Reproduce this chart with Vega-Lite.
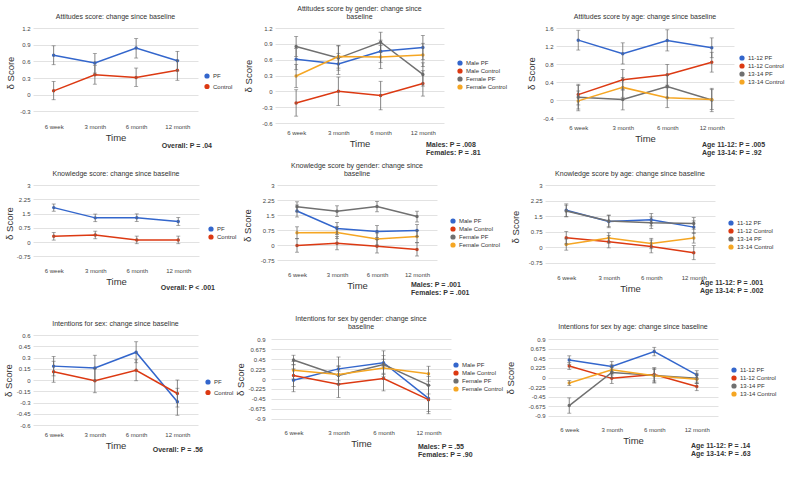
{
"$schema": "https://vega.github.io/schema/vega-lite/v6.json",
"padding": {"left": 3, "top": 4, "right": 0, "bottom": 0},
"background": "white",
"config": {
 "font": "Liberation Sans",
 "view": {"stroke": null},
 "axis": {"labelFontSize": 6, "labelColor": "#444", "titleFontWeight": "normal", "titleFontSize": 9.5, "titleColor": "#333", "ticks": false, "domain": false, "gridColor": "#dadada", "gridWidth": 0.8, "labelOverlap": false},
 "axisX": {"labelAngle": 0, "grid": false, "labelPadding": 6, "titlePadding": 3},
 "axisY": {"labelPadding": 3, "titlePadding": 6},
 "legend": {"labelFontSize": 6, "labelColor": "#333", "symbolType": "circle", "symbolSize": 14, "rowPadding": -2, "orient": "none", "padding": 0, "labelOffset": 3},
 "title": {"fontSize": 7, "fontWeight": "normal", "color": "#333", "offset": 5, "lineHeight": 8.5}
},
"resolve": {"scale": {"color": "independent"}, "legend": {"color": "independent"}},
"datasets": {
 "p1": [
  {"t":"6 week","g":"PF","v":0.71,"lo":0.54,"hi":0.88},
  {"t":"3 month","g":"PF","v":0.57,"lo":0.39,"hi":0.74},
  {"t":"6 month","g":"PF","v":0.84,"lo":0.66,"hi":1.01},
  {"t":"12 month","g":"PF","v":0.61,"lo":0.43,"hi":0.78},
  {"t":"6 week","g":"Control","v":0.07,"lo":-0.09,"hi":0.24},
  {"t":"3 month","g":"Control","v":0.36,"lo":0.19,"hi":0.53},
  {"t":"6 month","g":"Control","v":0.31,"lo":0.15,"hi":0.48},
  {"t":"12 month","g":"Control","v":0.44,"lo":0.26,"hi":0.62}
 ],
 "p2": [
  {"t":"6 week","g":"Male PF","v":0.61,"lo":0.41,"hi":0.81},
  {"t":"3 month","g":"Male PF","v":0.52,"lo":0.32,"hi":0.72},
  {"t":"6 month","g":"Male PF","v":0.76,"lo":0.55,"hi":0.97},
  {"t":"12 month","g":"Male PF","v":0.83,"lo":0.6,"hi":1.06},
  {"t":"6 week","g":"Male Control","v":-0.22,"lo":-0.47,"hi":0.03},
  {"t":"3 month","g":"Male Control","v":0.0,"lo":-0.27,"hi":0.27},
  {"t":"6 month","g":"Male Control","v":-0.08,"lo":-0.35,"hi":0.19},
  {"t":"12 month","g":"Male Control","v":0.15,"lo":-0.09,"hi":0.39},
  {"t":"6 week","g":"Female PF","v":0.85,"lo":0.66,"hi":1.04},
  {"t":"3 month","g":"Female PF","v":0.63,"lo":0.4,"hi":0.87},
  {"t":"6 month","g":"Female PF","v":0.93,"lo":0.74,"hi":1.12},
  {"t":"12 month","g":"Female PF","v":0.32,"lo":0.1,"hi":0.54},
  {"t":"6 week","g":"Female Control","v":0.29,"lo":0.07,"hi":0.51},
  {"t":"3 month","g":"Female Control","v":0.66,"lo":0.44,"hi":0.86},
  {"t":"6 month","g":"Female Control","v":0.65,"lo":0.43,"hi":0.87},
  {"t":"12 month","g":"Female Control","v":0.69,"lo":0.47,"hi":0.91}
 ],
 "p3": [
  {"t":"6 week","g":"11-12 PF","v":1.33,"lo":1.11,"hi":1.55},
  {"t":"3 month","g":"11-12 PF","v":1.03,"lo":0.8,"hi":1.27},
  {"t":"6 month","g":"11-12 PF","v":1.32,"lo":1.09,"hi":1.56},
  {"t":"12 month","g":"11-12 PF","v":1.16,"lo":0.94,"hi":1.38},
  {"t":"6 week","g":"11-12 Control","v":0.12,"lo":-0.11,"hi":0.35},
  {"t":"3 month","g":"11-12 Control","v":0.45,"lo":0.22,"hi":0.68},
  {"t":"6 month","g":"11-12 Control","v":0.56,"lo":0.33,"hi":0.79},
  {"t":"12 month","g":"11-12 Control","v":0.84,"lo":0.62,"hi":1.06},
  {"t":"6 week","g":"13-14 PF","v":0.06,"lo":-0.2,"hi":0.32},
  {"t":"3 month","g":"13-14 PF","v":0.01,"lo":-0.22,"hi":0.24},
  {"t":"6 month","g":"13-14 PF","v":0.3,"lo":0.05,"hi":0.55},
  {"t":"12 month","g":"13-14 PF","v":0.0,"lo":-0.26,"hi":0.26},
  {"t":"6 week","g":"13-14 Control","v":-0.02,"lo":-0.24,"hi":0.2},
  {"t":"3 month","g":"13-14 Control","v":0.28,"lo":0.06,"hi":0.5},
  {"t":"6 month","g":"13-14 Control","v":0.05,"lo":-0.17,"hi":0.27},
  {"t":"12 month","g":"13-14 Control","v":0.01,"lo":-0.21,"hi":0.23}
 ],
 "p4": [
  {"t":"6 week","g":"PF","v":1.81,"lo":1.62,"hi":2.0},
  {"t":"3 month","g":"PF","v":1.27,"lo":1.07,"hi":1.47},
  {"t":"6 month","g":"PF","v":1.28,"lo":1.08,"hi":1.48},
  {"t":"12 month","g":"PF","v":1.08,"lo":0.87,"hi":1.29},
  {"t":"6 week","g":"Control","v":0.3,"lo":0.1,"hi":0.5},
  {"t":"3 month","g":"Control","v":0.37,"lo":0.17,"hi":0.57},
  {"t":"6 month","g":"Control","v":0.11,"lo":-0.09,"hi":0.31},
  {"t":"12 month","g":"Control","v":0.11,"lo":-0.09,"hi":0.31}
 ],
 "p5": [
  {"t":"6 week","g":"Male PF","v":1.7,"lo":1.4,"hi":2.0},
  {"t":"3 month","g":"Male PF","v":0.83,"lo":0.53,"hi":1.13},
  {"t":"6 month","g":"Male PF","v":0.67,"lo":0.37,"hi":0.97},
  {"t":"12 month","g":"Male PF","v":0.72,"lo":0.42,"hi":1.02},
  {"t":"6 week","g":"Male Control","v":-0.02,"lo":-0.36,"hi":0.32},
  {"t":"3 month","g":"Male Control","v":0.09,"lo":-0.24,"hi":0.42},
  {"t":"6 month","g":"Male Control","v":-0.06,"lo":-0.4,"hi":0.28},
  {"t":"12 month","g":"Male Control","v":-0.22,"lo":-0.55,"hi":0.11},
  {"t":"6 week","g":"Female PF","v":1.91,"lo":1.66,"hi":2.16},
  {"t":"3 month","g":"Female PF","v":1.69,"lo":1.42,"hi":1.96},
  {"t":"6 month","g":"Female PF","v":1.92,"lo":1.66,"hi":2.18},
  {"t":"12 month","g":"Female PF","v":1.42,"lo":1.15,"hi":1.69},
  {"t":"6 week","g":"Female Control","v":0.61,"lo":0.31,"hi":0.91},
  {"t":"3 month","g":"Female Control","v":0.63,"lo":0.33,"hi":0.93},
  {"t":"6 month","g":"Female Control","v":0.3,"lo":0.0,"hi":0.6},
  {"t":"12 month","g":"Female Control","v":0.42,"lo":0.12,"hi":0.72}
 ],
 "p6": [
  {"t":"6 week","g":"11-12 PF","v":1.78,"lo":1.47,"hi":2.09},
  {"t":"3 month","g":"11-12 PF","v":1.24,"lo":0.94,"hi":1.54},
  {"t":"6 month","g":"11-12 PF","v":1.33,"lo":1.03,"hi":1.63},
  {"t":"12 month","g":"11-12 PF","v":0.97,"lo":0.67,"hi":1.27},
  {"t":"6 week","g":"11-12 Control","v":0.46,"lo":0.16,"hi":0.76},
  {"t":"3 month","g":"11-12 Control","v":0.27,"lo":-0.03,"hi":0.57},
  {"t":"6 month","g":"11-12 Control","v":0.04,"lo":-0.27,"hi":0.35},
  {"t":"12 month","g":"11-12 Control","v":-0.26,"lo":-0.6,"hi":0.08},
  {"t":"6 week","g":"13-14 PF","v":1.75,"lo":1.47,"hi":2.03},
  {"t":"3 month","g":"13-14 PF","v":1.27,"lo":0.99,"hi":1.55},
  {"t":"6 month","g":"13-14 PF","v":1.18,"lo":0.9,"hi":1.46},
  {"t":"12 month","g":"13-14 PF","v":1.15,"lo":0.87,"hi":1.43},
  {"t":"6 week","g":"13-14 Control","v":0.13,"lo":-0.14,"hi":0.4},
  {"t":"3 month","g":"13-14 Control","v":0.45,"lo":0.2,"hi":0.7},
  {"t":"6 month","g":"13-14 Control","v":0.18,"lo":-0.07,"hi":0.43},
  {"t":"12 month","g":"13-14 Control","v":0.45,"lo":0.2,"hi":0.7}
 ],
 "p7": [
  {"t":"6 week","g":"PF","v":0.185,"lo":0.055,"hi":0.315},
  {"t":"3 month","g":"PF","v":0.16,"lo":-0.01,"hi":0.33},
  {"t":"6 month","g":"PF","v":0.37,"lo":0.23,"hi":0.51},
  {"t":"12 month","g":"PF","v":-0.29,"lo":-0.47,"hi":-0.11},
  {"t":"6 week","g":"Control","v":0.11,"lo":-0.03,"hi":0.25},
  {"t":"3 month","g":"Control","v":-0.01,"lo":-0.17,"hi":0.15},
  {"t":"6 month","g":"Control","v":0.13,"lo":-0.01,"hi":0.27},
  {"t":"12 month","g":"Control","v":-0.18,"lo":-0.36,"hi":0.0}
 ],
 "p8": [
  {"t":"6 week","g":"Male PF","v":-0.03,"lo":-0.29,"hi":0.23},
  {"t":"3 month","g":"Male PF","v":0.23,"lo":-0.04,"hi":0.5},
  {"t":"6 month","g":"Male PF","v":0.37,"lo":0.1,"hi":0.64},
  {"t":"12 month","g":"Male PF","v":-0.44,"lo":-0.74,"hi":-0.14},
  {"t":"6 week","g":"Male Control","v":0.08,"lo":-0.17,"hi":0.33},
  {"t":"3 month","g":"Male Control","v":-0.12,"lo":-0.42,"hi":0.18},
  {"t":"6 month","g":"Male Control","v":0.01,"lo":-0.27,"hi":0.29},
  {"t":"12 month","g":"Male Control","v":-0.47,"lo":-0.79,"hi":-0.15},
  {"t":"6 week","g":"Female PF","v":0.43,"lo":0.32,"hi":0.54},
  {"t":"3 month","g":"Female PF","v":0.08,"lo":-0.12,"hi":0.28},
  {"t":"6 month","g":"Female PF","v":0.33,"lo":0.13,"hi":0.53},
  {"t":"12 month","g":"Female PF","v":-0.14,"lo":-0.34,"hi":0.06},
  {"t":"6 week","g":"Female Control","v":0.2,"lo":0.0,"hi":0.4},
  {"t":"3 month","g":"Female Control","v":0.1,"lo":-0.1,"hi":0.3},
  {"t":"6 month","g":"Female Control","v":0.25,"lo":0.05,"hi":0.45},
  {"t":"12 month","g":"Female Control","v":0.12,"lo":-0.05,"hi":0.29}
 ],
 "p9": [
  {"t":"6 week","g":"11-12 PF","v":0.41,"lo":0.31,"hi":0.51},
  {"t":"3 month","g":"11-12 PF","v":0.26,"lo":0.14,"hi":0.38},
  {"t":"6 month","g":"11-12 PF","v":0.61,"lo":0.51,"hi":0.71},
  {"t":"12 month","g":"11-12 PF","v":0.06,"lo":-0.04,"hi":0.16},
  {"t":"6 week","g":"11-12 Control","v":0.27,"lo":0.19,"hi":0.35},
  {"t":"3 month","g":"11-12 Control","v":-0.02,"lo":-0.14,"hi":0.1},
  {"t":"6 month","g":"11-12 Control","v":0.07,"lo":-0.08,"hi":0.22},
  {"t":"12 month","g":"11-12 Control","v":-0.21,"lo":-0.31,"hi":-0.11},
  {"t":"6 week","g":"13-14 PF","v":-0.66,"lo":-0.84,"hi":-0.48},
  {"t":"3 month","g":"13-14 PF","v":0.12,"lo":0.0,"hi":0.24},
  {"t":"6 month","g":"13-14 PF","v":0.05,"lo":-0.13,"hi":0.23},
  {"t":"12 month","g":"13-14 PF","v":-0.02,"lo":-0.14,"hi":0.1},
  {"t":"6 week","g":"13-14 Control","v":-0.13,"lo":-0.19,"hi":-0.07},
  {"t":"3 month","g":"13-14 Control","v":0.18,"lo":0.06,"hi":0.3},
  {"t":"6 month","g":"13-14 Control","v":0.04,"lo":-0.11,"hi":0.19},
  {"t":"12 month","g":"13-14 Control","v":-0.04,"lo":-0.14,"hi":0.06}
 ]
},
"vconcat": [
 {"hconcat": [
  {"vconcat": [{
    "width": 165, "height": 89, "data": {"name": "p1"},
    "title": "Attitudes score: change since baseline",
    "encoding": {"x": {"field": "t", "type": "ordinal", "sort": ["6 week","3 month","6 month","12 month"], "scale": {"type": "point", "padding": 0.5}, "title": "Time"}},
    "layer": [
     {"mark": {"type": "line", "strokeWidth": 1.5, "point": {"filled": true, "size": 12}},
      "encoding": {"y": {"field": "v", "type": "quantitative", "title": "δ Score", "scale": {"domain": [-0.3, 1.2]}, "axis": {"values": [-0.3, 0, 0.3, 0.6, 0.9, 1.2], "tickCount": 20, "titleX": -18, "labelExpr": "'' + datum.value"}},
       "color": {"field": "g", "type": "nominal", "scale": {"domain": ["PF","Control"], "range": ["#3366cc","#dc3912"]}, "legend": {"title": null, "legendX": 171, "legendY": 45, "rowPadding": 0.5}}}},
     {"mark": {"type": "errorbar", "ticks": true, "size": 4, "thickness": 0.8, "color": "#666"},
      "encoding": {"y": {"field": "lo", "type": "quantitative", "title": "δ Score"}, "y2": {"field": "hi"}}}
    ]}],
   "resolve": {"scale": {"color": "independent"}, "legend": {"color": "independent"}},
   "title": {"text": "Overall: P = .04", "orient": "bottom", "anchor": "end", "fontWeight": "bold", "fontSize": 7, "offset": 0, "dx": -21}
  },
  {"vconcat": [{
    "width": 169, "height": 95, "data": {"name": "p2"},
    "title": ["Attitudes score by gender: change since", "baseline"],
    "encoding": {"x": {"field": "t", "type": "ordinal", "sort": ["6 week","3 month","6 month","12 month"], "scale": {"type": "point", "padding": 0.5}, "title": "Time"}},
    "layer": [
     {"mark": {"type": "line", "strokeWidth": 1.5, "point": {"filled": true, "size": 12}},
      "encoding": {"y": {"field": "v", "type": "quantitative", "title": "δ Score", "scale": {"domain": [-0.6, 1.2]}, "axis": {"values": [-0.6, -0.3, 0, 0.3, 0.6, 0.9, 1.2], "tickCount": 20, "titleX": -22, "labelExpr": "'' + datum.value"}},
       "color": {"field": "g", "type": "nominal", "scale": {"domain": ["Male PF","Male Control","Female PF","Female Control"], "range": ["#3366cc","#dc3912","#707070","#f5a623"]}, "legend": {"title": null, "legendX": 174, "legendY": 24, "padding": 8}}}},
     {"mark": {"type": "errorbar", "ticks": true, "size": 4, "thickness": 0.8, "color": "#666"},
      "encoding": {"y": {"field": "lo", "type": "quantitative", "title": "δ Score"}, "y2": {"field": "hi"}}}
    ]}],
   "resolve": {"scale": {"color": "independent"}, "legend": {"color": "independent"}},
   "title": {"text": ["Males: P = .008", "Females: P = .81"], "orient": "bottom", "anchor": "end", "align": "left", "fontWeight": "bold", "fontSize": 7, "offset": -7, "dx": -90}
  },
  {"vconcat": [{
    "width": 178, "height": 90, "data": {"name": "p3"},
    "title": "Attitudes score by age: change since baseline",
    "encoding": {"x": {"field": "t", "type": "ordinal", "sort": ["6 week","3 month","6 month","12 month"], "scale": {"type": "point", "padding": 0.5}, "title": "Time"}},
    "layer": [
     {"mark": {"type": "line", "strokeWidth": 1.5, "point": {"filled": true, "size": 12}},
      "encoding": {"y": {"field": "v", "type": "quantitative", "title": "δ Score", "scale": {"domain": [-0.4, 1.6]}, "axis": {"values": [-0.4, 0, 0.4, 0.8, 1.2, 1.6], "tickCount": 20, "titleX": -20, "labelExpr": "'' + datum.value"}},
       "color": {"field": "g", "type": "nominal", "scale": {"domain": ["11-12 PF","11-12 Control","13-14 PF","13-14 Control"], "range": ["#3366cc","#dc3912","#707070","#f5a623"]}, "legend": {"title": null, "legendX": 183, "legendY": 27}}}},
     {"mark": {"type": "errorbar", "ticks": true, "size": 4, "thickness": 0.8, "color": "#666"},
      "encoding": {"y": {"field": "lo", "type": "quantitative", "title": "δ Score"}, "y2": {"field": "hi"}}}
    ]}],
   "resolve": {"scale": {"color": "independent"}, "legend": {"color": "independent"}},
   "title": {"text": ["Age 11-12: P = .005", "Age 13-14: P = .92"], "orient": "bottom", "anchor": "end", "align": "left", "fontWeight": "bold", "fontSize": 7, "offset": -2, "dx": -83}
  }
 ], "spacing": 10, "resolve": {"scale": {"color": "independent"}, "legend": {"color": "independent"}}},
 {"vconcat": [
 {"hconcat": [
  {"vconcat": [{
    "width": 166, "height": 76, "data": {"name": "p4"},
    "title": "Knowledge score: change since baseline",
    "encoding": {"x": {"field": "t", "type": "ordinal", "sort": ["6 week","3 month","6 month","12 month"], "scale": {"type": "point", "padding": 0.5}, "title": "Time"}},
    "layer": [
     {"mark": {"type": "line", "strokeWidth": 1.5, "point": {"filled": true, "size": 12}},
      "encoding": {"y": {"field": "v", "type": "quantitative", "title": "δ Score", "scale": {"domain": [-0.75, 3]}, "axis": {"values": [-0.75, 0, 0.75, 1.5, 2.25, 3], "tickCount": 20, "titleX": -19, "labelExpr": "'' + datum.value"}},
       "color": {"field": "g", "type": "nominal", "scale": {"domain": ["PF","Control"], "range": ["#3366cc","#dc3912"]}, "legend": {"title": null, "legendX": 175, "legendY": 41}}}},
     {"mark": {"type": "errorbar", "ticks": true, "size": 4, "thickness": 0.8, "color": "#666"},
      "encoding": {"y": {"field": "lo", "type": "quantitative", "title": "δ Score"}, "y2": {"field": "hi"}}}
    ]}],
   "resolve": {"scale": {"color": "independent"}, "legend": {"color": "independent"}},
   "title": {"text": "Overall: P < .001", "orient": "bottom", "anchor": "end", "fontWeight": "bold", "fontSize": 7, "offset": -2, "dx": -22}
  },
  {"vconcat": [{
    "width": 160, "height": 80, "data": {"name": "p5"},
    "title": ["Knowledge score by gender: change since", "baseline"],
    "encoding": {"x": {"field": "t", "type": "ordinal", "sort": ["6 week","3 month","6 month","12 month"], "scale": {"type": "point", "padding": 0.5}, "title": "Time"}},
    "layer": [
     {"mark": {"type": "line", "strokeWidth": 1.5, "point": {"filled": true, "size": 12}},
      "encoding": {"y": {"field": "v", "type": "quantitative", "title": "δ Score", "scale": {"domain": [-0.75, 3]}, "axis": {"values": [-0.75, 0, 0.75, 1.5, 2.25, 3], "tickCount": 20, "titleX": -25, "labelExpr": "'' + datum.value"}},
       "color": {"field": "g", "type": "nominal", "scale": {"domain": ["Male PF","Male Control","Female PF","Female Control"], "range": ["#3366cc","#dc3912","#707070","#f5a623"]}, "legend": {"title": null, "legendX": 169, "legendY": 29, "padding": 4}}}},
     {"mark": {"type": "errorbar", "ticks": true, "size": 4, "thickness": 0.8, "color": "#666"},
      "encoding": {"y": {"field": "lo", "type": "quantitative", "title": "δ Score"}, "y2": {"field": "hi"}}}
    ]}],
   "resolve": {"scale": {"color": "independent"}, "legend": {"color": "independent"}},
   "title": {"text": ["Males: P = .001", "Females: P = .001"], "orient": "bottom", "anchor": "end", "align": "left", "fontWeight": "bold", "fontSize": 7, "offset": -9, "dx": -94}
  },
  {"vconcat": [{
    "width": 170, "height": 83, "data": {"name": "p6"},
    "title": "Knowledge score by age: change since baseline",
    "encoding": {"x": {"field": "t", "type": "ordinal", "sort": ["6 week","3 month","6 month","12 month"], "scale": {"type": "point", "padding": 0.5}, "title": "Time"}},
    "layer": [
     {"mark": {"type": "line", "strokeWidth": 1.5, "point": {"filled": true, "size": 12}},
      "encoding": {"y": {"field": "v", "type": "quantitative", "title": "δ Score", "scale": {"domain": [-0.75, 3]}, "axis": {"values": [-0.75, 0, 0.75, 1.5, 2.25, 3], "tickCount": 20, "titleX": -25, "labelExpr": "'' + datum.value"}},
       "color": {"field": "g", "type": "nominal", "scale": {"domain": ["11-12 PF","11-12 Control","13-14 PF","13-14 Control"], "range": ["#3366cc","#dc3912","#707070","#f5a623"]}, "legend": {"title": null, "legendX": 183, "legendY": 35}}}},
     {"mark": {"type": "errorbar", "ticks": true, "size": 4, "thickness": 0.8, "color": "#666"},
      "encoding": {"y": {"field": "lo", "type": "quantitative", "title": "δ Score"}, "y2": {"field": "hi"}}}
    ]}],
   "resolve": {"scale": {"color": "independent"}, "legend": {"color": "independent"}},
   "title": {"text": ["Age 11-12: P = .001", "Age 13-14: P = .002"], "orient": "bottom", "anchor": "end", "align": "left", "fontWeight": "bold", "fontSize": 7, "offset": -14, "dx": -74}
  }
 ], "spacing": 5, "resolve": {"scale": {"color": "independent"}, "legend": {"color": "independent"}}},
 {"hconcat": [
  {"vconcat": [{
    "width": 165, "height": 90, "data": {"name": "p7"},
    "title": "Intentions for sex: change since baseline",
    "encoding": {"x": {"field": "t", "type": "ordinal", "sort": ["6 week","3 month","6 month","12 month"], "scale": {"type": "point", "padding": 0.5}, "title": "Time"}},
    "layer": [
     {"mark": {"type": "line", "strokeWidth": 1.5, "point": {"filled": true, "size": 12}},
      "encoding": {"y": {"field": "v", "type": "quantitative", "title": "δ Score", "scale": {"domain": [-0.6, 0.6]}, "axis": {"values": [-0.6, -0.45, -0.3, -0.15, 0, 0.15, 0.3, 0.45, 0.6], "tickCount": 20, "titleX": -20, "labelExpr": "'' + datum.value"}},
       "color": {"field": "g", "type": "nominal", "scale": {"domain": ["PF","Control"], "range": ["#3366cc","#dc3912"]}, "legend": {"title": null, "legendX": 172, "legendY": 44, "rowPadding": 0.5}}}},
     {"mark": {"type": "errorbar", "ticks": true, "size": 4, "thickness": 0.8, "color": "#666"},
      "encoding": {"y": {"field": "lo", "type": "quantitative", "title": "δ Score"}, "y2": {"field": "hi"}}}
    ]}],
   "resolve": {"scale": {"color": "independent"}, "legend": {"color": "independent"}},
   "title": {"text": "Overall: P = .56", "orient": "bottom", "anchor": "end", "fontWeight": "bold", "fontSize": 7, "offset": -4, "dx": -31}
  },
  {"vconcat": [{
    "width": 180, "height": 88, "data": {"name": "p8"},
    "title": ["Intentions for sex by gender: change since", "baseline"],
    "encoding": {"x": {"field": "t", "type": "ordinal", "sort": ["6 week","3 month","6 month","12 month"], "scale": {"type": "point", "padding": 0.5}, "title": "Time"}},
    "layer": [
     {"mark": {"type": "line", "strokeWidth": 1.5, "point": {"filled": true, "size": 12}},
      "encoding": {"y": {"field": "v", "type": "quantitative", "title": "δ Score", "scale": {"domain": [-0.9, 0.9]}, "axis": {"values": [-0.9, -0.675, -0.45, -0.225, 0, 0.225, 0.45, 0.675, 0.9], "tickCount": 20, "titleX": -26, "labelPadding": 6, "labelExpr": "'' + datum.value"}},
       "color": {"field": "g", "type": "nominal", "scale": {"domain": ["Male PF","Male Control","Female PF","Female Control"], "range": ["#3366cc","#dc3912","#707070","#f5a623"]}, "legend": {"title": null, "legendX": 182, "legendY": 27}}}},
     {"mark": {"type": "errorbar", "ticks": true, "size": 4, "thickness": 0.8, "color": "#666"},
      "encoding": {"y": {"field": "lo", "type": "quantitative", "title": "δ Score"}, "y2": {"field": "hi"}}}
    ]}],
   "resolve": {"scale": {"color": "independent"}, "legend": {"color": "independent"}},
   "title": {"text": ["Males: P = .55", "Females: P = .90"], "orient": "bottom", "anchor": "end", "align": "left", "fontWeight": "bold", "fontSize": 7, "offset": -5, "dx": -86}
  },
  {"vconcat": [{
    "width": 170, "height": 85, "data": {"name": "p9"},
    "title": "Intentions for sex by age: change since baseline",
    "encoding": {"x": {"field": "t", "type": "ordinal", "sort": ["6 week","3 month","6 month","12 month"], "scale": {"type": "point", "padding": 0.5}, "title": "Time"}},
    "layer": [
     {"mark": {"type": "line", "strokeWidth": 1.5, "point": {"filled": true, "size": 12}},
      "encoding": {"y": {"field": "v", "type": "quantitative", "title": "δ Score", "scale": {"domain": [-0.9, 0.9]}, "axis": {"values": [-0.9, -0.675, -0.45, -0.225, 0, 0.225, 0.45, 0.675, 0.9], "tickCount": 20, "titleX": -33, "labelExpr": "'' + datum.value"}},
       "color": {"field": "g", "type": "nominal", "scale": {"domain": ["11-12 PF","11-12 Control","13-14 PF","13-14 Control"], "range": ["#3366cc","#dc3912","#707070","#f5a623"]}, "legend": {"title": null, "legendX": 183, "legendY": 32}}}},
     {"mark": {"type": "errorbar", "ticks": true, "size": 4, "thickness": 0.8, "color": "#666"},
      "encoding": {"y": {"field": "lo", "type": "quantitative", "title": "δ Score"}, "y2": {"field": "hi"}}}
    ]}],
   "resolve": {"scale": {"color": "independent"}, "legend": {"color": "independent"}},
   "title": {"text": ["Age 11-12: P = .14", "Age 13-14: P = .63"], "orient": "bottom", "anchor": "end", "align": "left", "fontWeight": "bold", "fontSize": 7, "offset": -3, "dx": -86}
  }
 ], "spacing": 1, "resolve": {"scale": {"color": "independent"}, "legend": {"color": "independent"}}}
 ], "spacing": 18, "resolve": {"scale": {"color": "independent"}, "legend": {"color": "independent"}}}
],
"spacing": 5
}
